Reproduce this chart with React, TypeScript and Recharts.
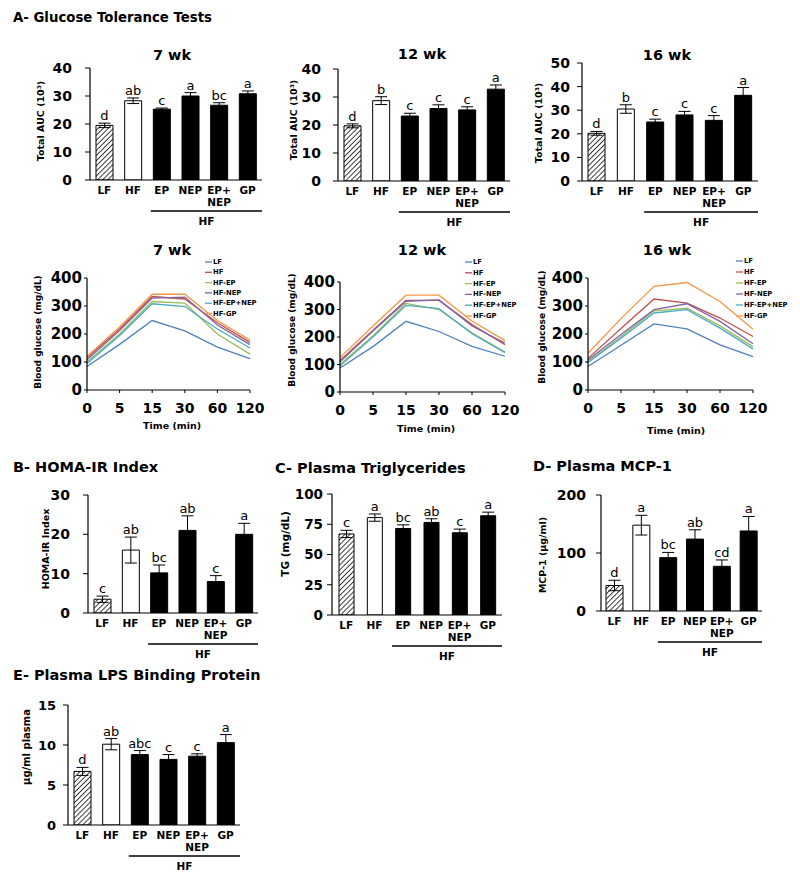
import React from "react";
import {
  BarChart,
  Bar,
  XAxis,
  YAxis,
  ErrorBar,
  Cell,
  LabelList,
  LineChart,
  Line,
} from "recharts";

const FONT = "'DejaVu Sans', 'Liberation Sans', sans-serif";

// groups on the bar panels
const groups = ["LF", "HF", "EP", "NEP", "EP+ NEP", "GP"];

// A - total AUC (10^3)
const auc7 = [19.5, 28.3, 25.3, 30.0, 26.7, 30.8];
const auc7Err = [0.8, 1.0, 0.4, 1.2, 0.9, 1.0];
const auc7Sig = ["d", "ab", "c", "a", "bc", "a"];

const auc12 = [19.7, 28.7, 23.2, 25.9, 25.4, 32.8];
const auc12Err = [0.7, 1.4, 1.0, 1.3, 1.1, 1.5];
const auc12Sig = ["d", "b", "c", "c", "c", "a"];

const auc16 = [20.2, 30.5, 25.0, 28.0, 25.7, 36.3];
const auc16Err = [0.8, 1.8, 1.2, 1.5, 2.0, 3.3];
const auc16Sig = ["d", "b", "c", "c", "c", "a"];

// A - GTT curves
const times = ["0", "5", "15", "30", "60", "120"];
const lineNames = ["LF", "HF", "HF-EP", "HF-NEP", "HF-EP+NEP", "HF-GP"];
const lineColors = ["#4F81BD", "#C0504D", "#9BBB59", "#8064A2", "#4BACC6", "#F79646"];

const gtt7 = [
  [84, 163, 248, 211, 153, 112],
  [115, 218, 334, 325, 240, 170],
  [100, 200, 316, 310, 200, 128],
  [108, 212, 328, 332, 232, 162],
  [95, 195, 308, 298, 218, 150],
  [120, 225, 342, 342, 248, 178],
];
const gtt12 = [
  [87, 165, 257, 220, 166, 130],
  [115, 225, 333, 333, 245, 172],
  [100, 205, 322, 300, 215, 145],
  [110, 222, 330, 335, 240, 178],
  [95, 200, 315, 303, 212, 143],
  [125, 240, 352, 352, 258, 187],
];
const gtt16 = [
  [84, 160, 236, 218, 161, 119],
  [113, 220, 325, 310, 257, 191],
  [101, 190, 283, 292, 229, 155],
  [107, 198, 287, 308, 245, 165],
  [98, 185, 275, 287, 221, 147],
  [131, 255, 370, 384, 316, 217],
];

// B - HOMA-IR
const homa = [3.5, 16, 10.2, 21, 8, 20];
const homaErr = [0.8, 3.3, 2.0, 3.7, 1.5, 2.8];
const homaSig = ["c", "ab", "bc", "ab", "c", "a"];

// C - triglycerides
const tg = [67, 80.5, 71.5, 76.5, 68, 82];
const tgErr = [3, 3, 3, 3, 3, 3];
const tgSig = ["c", "a", "bc", "ab", "c", "a"];

// D - MCP-1
const mcp = [44, 148, 92, 124, 77, 138];
const mcpErr = [9, 17, 9, 16, 11, 25];
const mcpSig = ["d", "a", "bc", "ab", "cd", "a"];

// E - LPS binding protein
const lbp = [6.7, 10.1, 8.8, 8.2, 8.6, 10.3];
const lbpErr = [0.5, 0.7, 0.5, 0.6, 0.3, 1.0];
const lbpSig = ["d", "ab", "abc", "c", "c", "a"];

type Rect = { x0: number; y0: number; x1: number; y1: number };

const L = 70;
const T = 20;
const R = 12;
const B = 52;

const GroupTick = (p: any) => {
  const parts = String(p.payload.value).split(" ");
  return (
    <g>
      {parts.map((s, i) => (
        <text
          key={i}
          x={p.x}
          y={p.y + 14 + i * 12}
          textAnchor="middle"
          fontSize={10.5}
          fontWeight="bold"
          fontFamily={FONT}
          fill="#000"
        >
          {s}
        </text>
      ))}
    </g>
  );
};

const TimeTick = (p: any) => (
  <text
    x={p.x}
    y={p.y + 20}
    textAnchor="middle"
    fontSize={14}
    fontWeight="bold"
    fontFamily={FONT}
    fill="#000"
  >
    {p.payload.value}
  </text>
);

function BarPanel(props: {
  id: string;
  rect: Rect;
  values: number[];
  errs: number[];
  sigs: string[];
  max: number;
  ticks: number[];
  barSize?: number;
  tickFont?: number;
  tickGap: number;
}) {
  const { id, rect, values, errs, sigs, max, ticks } = props;
  const data = groups.map((g, i) => ({ g, v: values[i], err: errs[i], sig: sigs[i] }));
  const pw = rect.x1 - rect.x0;
  const ph = rect.y1 - rect.y0;
  const w = pw + L + R;
  const h = ph + T + B;
  const band = pw / groups.length;
  const bx0 = L + 2 * band + band * 0.12;
  const bx1 = L + pw;
  const by = T + ph + 31;

  const sigLabel = (p: any) => {
    const vb = p.viewBox || p;
    const x = Number(vb.x);
    const y = Number(vb.y);
    const bw = Number(vb.width);
    const bh = Number(vb.height);
    const d = p.index != null ? data[p.index] : data.find((r) => r.sig === p.value);
    const errPx = d && d.v ? (d.err * bh) / d.v : 0;
    return (
      <text
        x={x + bw / 2}
        y={y - errPx - 3}
        textAnchor="middle"
        fontSize={13}
        fontFamily={FONT}
        fill="#000"
      >
        {p.value}
      </text>
    );
  };

  return (
    <div style={{ position: "absolute", left: rect.x0 - L, top: rect.y0 - T, width: w, height: h }}>
      <BarChart
        width={w}
        height={h}
        data={data}
        margin={{ top: T, right: R, bottom: 0, left: 0 }}
        barSize={props.barSize ?? 17}
      >
        <defs>
          <pattern
            id={`${id}-hatch`}
            patternUnits="userSpaceOnUse"
            width={3.6}
            height={3.6}
            patternTransform="rotate(45)"
          >
            <rect width={3.6} height={3.6} fill="#fff" />
            <line x1={0} y1={0} x2={0} y2={3.6} stroke="#000" strokeWidth={1.5} />
          </pattern>
        </defs>
        <XAxis
          dataKey="g"
          height={B}
          interval={0}
          tickLine={false}
          tickSize={0}
          tickMargin={0}
          axisLine={{ stroke: "#000", strokeWidth: 1.2 }}
          tick={(p: any) => <GroupTick {...p} />}
        />
        <YAxis
          width={L}
          domain={[0, max]}
          ticks={ticks}
          interval={0}
          allowDataOverflow
          tickSize={5}
          tickMargin={props.tickGap - 5}
          axisLine={{ stroke: "#000", strokeWidth: 1.2 }}
          tickLine={{ stroke: "#000" }}
          tick={{
            fill: "#000",
            fontSize: props.tickFont ?? 14,
            fontWeight: "bold",
            fontFamily: FONT,
          }}
        />
        <Bar dataKey="v" stroke="#000" strokeWidth={1} isAnimationActive={false}>
          {data.map((d, i) => (
            <Cell
              key={d.g}
              fill={i === 0 ? `url(#${id}-hatch)` : i === 1 ? "#fff" : "#000"}
            />
          ))}
          <ErrorBar dataKey="err" width={6} stroke="#000" strokeWidth={1} direction="y" />
          <LabelList dataKey="sig" content={sigLabel} />
        </Bar>
      </BarChart>
      <svg
        width={w}
        height={h}
        style={{ position: "absolute", left: 0, top: 0, pointerEvents: "none" }}
      >
        <line x1={bx0} y1={by} x2={bx1} y2={by} stroke="#000" strokeWidth={1.5} />
        <text
          x={(bx0 + bx1) / 2}
          y={by + 14}
          textAnchor="middle"
          fontSize={10.5}
          fontWeight="bold"
          fontFamily={FONT}
          fill="#000"
        >
          HF
        </text>
      </svg>
    </div>
  );
}

function LinePanel(props: { rect: Rect; rows: number[][] }) {
  const { rect, rows } = props;
  const data = times.map((t, i) => {
    const r: Record<string, any> = { t };
    lineNames.forEach((n, k) => {
      r[n] = rows[k][i];
    });
    return r;
  });
  const RL = 30;
  const pw = rect.x1 - rect.x0;
  const ph = rect.y1 - rect.y0;
  const w = pw + L + RL;
  const h = ph + T + B;
  return (
    <div style={{ position: "absolute", left: rect.x0 - L, top: rect.y0 - T }}>
      <LineChart width={w} height={h} data={data} margin={{ top: T, right: RL, bottom: 0, left: 0 }}>
        <XAxis
          dataKey="t"
          height={B}
          interval={0}
          tickSize={3}
          tickMargin={0}
          axisLine={{ stroke: "#000", strokeWidth: 1.2 }}
          tickLine={{ stroke: "#000" }}
          tick={(p: any) => <TimeTick {...p} />}
        />
        <YAxis
          width={L}
          domain={[0, 400]}
          ticks={[0, 100, 200, 300, 400]}
          interval={0}
          tickSize={3}
          tickMargin={2}
          axisLine={{ stroke: "#000", strokeWidth: 1.2 }}
          tickLine={{ stroke: "#000" }}
          tick={{ fill: "#000", fontSize: 15, fontWeight: "bold", fontFamily: FONT }}
        />
        {lineNames.map((n, k) => (
          <Line
            key={n}
            type="linear"
            dataKey={n}
            stroke={lineColors[k]}
            strokeWidth={1.3}
            dot={false}
            isAnimationActive={false}
          />
        ))}
      </LineChart>
    </div>
  );
}

const titles: [string, number, number, number][] = [
  ["A- Glucose Tolerance Tests", 13, 22, 13.3],
  ["B- HOMA-IR Index", 13, 472, 14.5],
  ["C- Plasma Triglycerides", 275, 473, 14.5],
  ["D- Plasma MCP-1", 533, 471, 14.5],
  ["E- Plasma LPS Binding Protein", 13, 680, 14.5],
];

const weekTitles: [string, number, number][] = [
  ["7 wk", 172, 60],
  ["12 wk", 422, 59],
  ["16 wk", 667, 60],
  ["7 wk", 172, 255],
  ["12 wk", 422, 255],
  ["16 wk", 667, 255],
];

const yLabels: [string, number, number, number][] = [
  ["Total AUC (10³)", 40, 121, 9.5],
  ["Total AUC (10³)", 293, 120, 9.5],
  ["Total AUC (10³)", 538, 123, 9.5],
  ["Blood glucose (mg/dL)", 38, 332, 9],
  ["Blood glucose (mg/dL)", 292, 330, 9],
  ["Blood glucose (mg/dL)", 542, 327, 9],
  ["HOMA-IR Index", 45, 549, 9.5],
  ["TG (mg/dL)", 285, 544, 10.5],
  ["MCP-1 (µg/ml)", 542, 555, 9.5],
  ["µg/ml plasma", 26, 747, 10],
];

const timeLabels: [number, number][] = [
  [172, 429],
  [426, 432],
  [676, 434],
];

const legends: [number, number, number][] = [
  [205, 262, 10.3],
  [465, 262, 10.8],
  [736, 261, 11],
];

export default function App() {
  return (
    <div
      style={{
        position: "absolute",
        left: 0,
        top: 0,
        width: 800,
        height: 881,
        background: "#fff",
        fontFamily: FONT,
      }}
    >
      <BarPanel id="a7" rect={{ x0: 90, y0: 68, x1: 262, y1: 180 }} values={auc7} errs={auc7Err} sigs={auc7Sig} max={40} ticks={[0, 10, 20, 30, 40]} tickGap={18} />
      <BarPanel id="a12" rect={{ x0: 338, y0: 69, x1: 510, y1: 181 }} values={auc12} errs={auc12Err} sigs={auc12Sig} max={40} ticks={[0, 10, 20, 30, 40]} tickGap={17} />
      <BarPanel id="a16" rect={{ x0: 582, y0: 63, x1: 758, y1: 181 }} values={auc16} errs={auc16Err} sigs={auc16Sig} max={50} ticks={[0, 10, 20, 30, 40, 50]} tickGap={12} />

      <LinePanel rect={{ x0: 87, y0: 278, x1: 250, y1: 390 }} rows={gtt7} />
      <LinePanel rect={{ x0: 340, y0: 282, x1: 505, y1: 392 }} rows={gtt12} />
      <LinePanel rect={{ x0: 588, y0: 278, x1: 753, y1: 390 }} rows={gtt16} />

      <BarPanel id="b" rect={{ x0: 88, y0: 495, x1: 258, y1: 613 }} values={homa} errs={homaErr} sigs={homaSig} max={30} ticks={[0, 10, 20, 30]} tickGap={18} />
      <BarPanel id="c" rect={{ x0: 332, y0: 494, x1: 502, y1: 615 }} values={tg} errs={tgErr} sigs={tgSig} max={100} ticks={[0, 25, 50, 75, 100]} tickGap={9} barSize={15} tickFont={13.5} />
      <BarPanel id="d" rect={{ x0: 601, y0: 495, x1: 762, y1: 611 }} values={mcp} errs={mcpErr} sigs={mcpSig} max={200} ticks={[0, 100, 200]} tickGap={15} />
      <BarPanel id="e" rect={{ x0: 68, y0: 705, x1: 240, y1: 825 }} values={lbp} errs={lbpErr} sigs={lbpSig} max={15} ticks={[0, 5, 10, 15]} tickGap={12} tickFont={13} />

      <svg
        width={800}
        height={881}
        style={{ position: "absolute", left: 0, top: 0, pointerEvents: "none" }}
      >
        {titles.map(([t, x, y, s]) => (
          <text key={t} x={x} y={y} fontSize={s} fontWeight="bold" fontFamily={FONT} fill="#000">
            {t}
          </text>
        ))}
        {weekTitles.map(([t, x, y], i) => (
          <text key={i} x={x} y={y} textAnchor="middle" fontSize={14.5} fontWeight="bold" fontFamily={FONT} fill="#000">
            {t}
          </text>
        ))}
        {yLabels.map(([t, x, y, s], i) => (
          <text
            key={i}
            transform={`translate(${x},${y}) rotate(-90)`}
            textAnchor="middle"
            dominantBaseline="central"
            fontSize={s}
            fontWeight="bold"
            fontFamily={FONT}
            fill="#000"
          >
            {t}
          </text>
        ))}
        {timeLabels.map(([x, y], i) => (
          <text key={i} x={x} y={y} textAnchor="middle" fontSize={9.5} fontWeight="bold" fontFamily={FONT} fill="#000">
            Time (min)
          </text>
        ))}
        {legends.map(([x, y, dy], li) => (
          <g key={li}>
            {lineNames.map((n, k) => (
              <g key={n}>
                <line x1={x} y1={y + k * dy} x2={x + 7} y2={y + k * dy} stroke={lineColors[k]} strokeWidth={1.3} />
                <text
                  x={x + 8}
                  y={y + k * dy}
                  dominantBaseline="central"
                  fontSize={6.8}
                  fontWeight="bold"
                  fontFamily={FONT}
                  fill="#000"
                >
                  {n}
                </text>
              </g>
            ))}
          </g>
        ))}
      </svg>
    </div>
  );
}
